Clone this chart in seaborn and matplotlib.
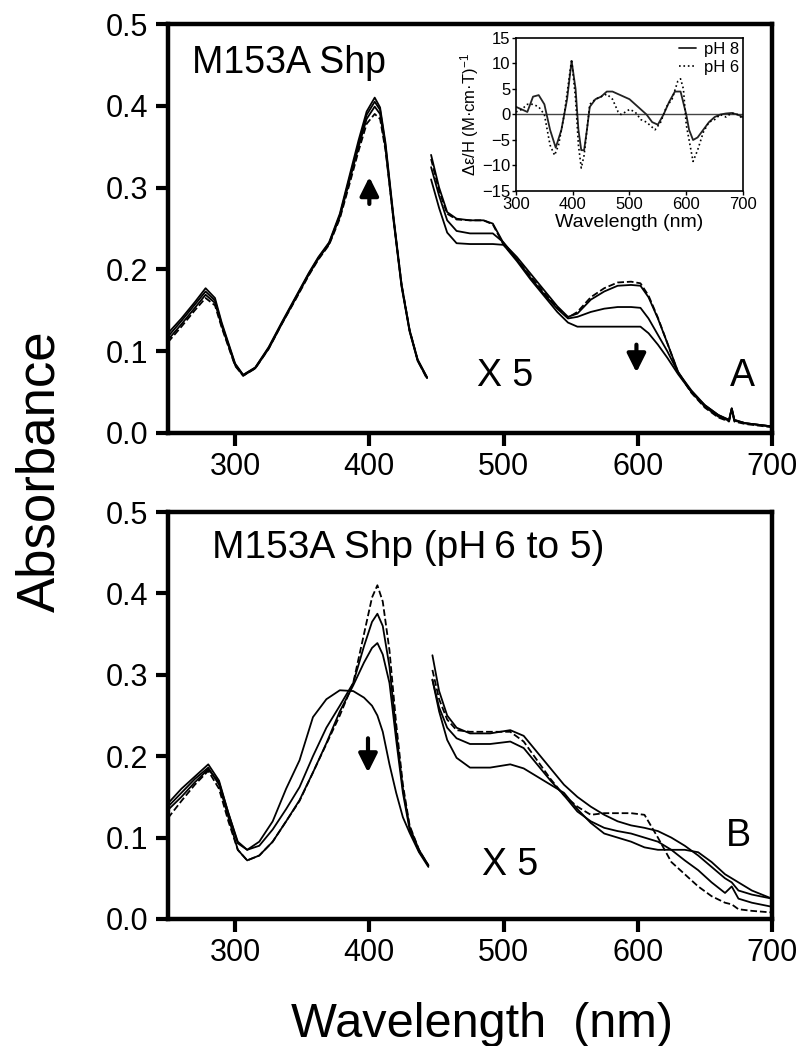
import numpy as np
import pandas as pd
import matplotlib
matplotlib.use('Agg')
import matplotlib.pyplot as plt
import seaborn as sns

# ---- data ----
# panel A, UV region (250-445 nm)
wl_a_uv = [250, 260, 270, 278, 285, 290, 300, 306, 315, 325, 335, 345, 355, 362,
           370, 378, 385, 392, 398, 404, 408, 412, 418, 424, 430, 436, 443]
a_uv_1 = [0.122, 0.140, 0.160, 0.177, 0.165, 0.135, 0.085, 0.071, 0.080, 0.105, 0.136, 0.166,
          0.196, 0.215, 0.233, 0.268, 0.313, 0.358, 0.393, 0.410, 0.398, 0.355, 0.265, 0.182,
          0.126, 0.090, 0.068]
a_uv_2 = [0.118, 0.137, 0.157, 0.173, 0.162, 0.133, 0.084, 0.071, 0.080, 0.104, 0.135, 0.165,
          0.195, 0.214, 0.232, 0.266, 0.310, 0.354, 0.389, 0.405, 0.395, 0.352, 0.262, 0.180,
          0.125, 0.089, 0.068]
a_uv_3 = [0.114, 0.133, 0.153, 0.169, 0.159, 0.131, 0.083, 0.070, 0.079, 0.103, 0.134, 0.164,
          0.194, 0.213, 0.231, 0.264, 0.307, 0.350, 0.384, 0.399, 0.390, 0.349, 0.260, 0.179,
          0.124, 0.088, 0.067]
a_uv_d = [0.111, 0.130, 0.150, 0.165, 0.156, 0.129, 0.082, 0.070, 0.079, 0.103, 0.134, 0.163,
          0.193, 0.212, 0.230, 0.262, 0.303, 0.345, 0.378, 0.390, 0.384, 0.346, 0.262, 0.182,
          0.126, 0.089, 0.066]

# panel A, visible region x5 (445-700 nm)
wl_a_vis = [446, 452, 458, 465, 475, 485, 492, 500, 510, 520, 530, 540, 548, 555, 565, 575,
            585, 595, 602, 608, 615, 622, 630, 640, 650, 660, 668, 670, 672, 680, 690, 700]
a_vis_1 = [0.340, 0.300, 0.270, 0.262, 0.260, 0.260, 0.256, 0.232, 0.215, 0.195, 0.175, 0.155,
           0.142, 0.146, 0.163, 0.173, 0.180, 0.181, 0.180, 0.166, 0.140, 0.110, 0.075, 0.050,
           0.032, 0.020, 0.015, 0.030, 0.015, 0.012, 0.010, 0.008]
a_vis_d = [0.335, 0.296, 0.268, 0.261, 0.260, 0.260, 0.255, 0.230, 0.212, 0.192, 0.172, 0.153,
           0.141, 0.148, 0.166, 0.177, 0.184, 0.185, 0.183, 0.168, 0.141, 0.110, 0.074, 0.049,
           0.031, 0.019, 0.014, 0.028, 0.014, 0.011, 0.009, 0.007]
a_vis_2 = [0.325, 0.290, 0.260, 0.247, 0.244, 0.244, 0.244, 0.233, 0.212, 0.190, 0.170, 0.152,
           0.140, 0.142, 0.148, 0.152, 0.154, 0.154, 0.153, 0.140, 0.120, 0.100, 0.074, 0.052,
           0.034, 0.022, 0.016, 0.030, 0.016, 0.012, 0.010, 0.008]
a_vis_3 = [0.310, 0.275, 0.245, 0.232, 0.231, 0.231, 0.231, 0.230, 0.210, 0.188, 0.168, 0.148,
           0.135, 0.130, 0.130, 0.130, 0.130, 0.130, 0.130, 0.122, 0.108, 0.092, 0.072, 0.050,
           0.034, 0.022, 0.016, 0.030, 0.016, 0.012, 0.010, 0.008]

# panel B, UV region
wl_b_uv = [250, 260, 270, 280, 288, 295, 302, 309, 318, 328, 338, 348, 358, 368, 378,
           388, 396, 402, 406, 410, 415, 420, 425, 430, 437, 444]
b_uv_d = [0.124, 0.145, 0.165, 0.182, 0.160, 0.120, 0.085, 0.072, 0.078, 0.095, 0.120, 0.145,
          0.180, 0.215, 0.250, 0.290, 0.350, 0.395, 0.410, 0.390, 0.330, 0.240, 0.165, 0.115,
          0.085, 0.065]
b_uv_1 = [0.142, 0.160, 0.175, 0.190, 0.170, 0.130, 0.095, 0.085, 0.090, 0.110, 0.135, 0.162,
          0.200, 0.235, 0.262, 0.290, 0.335, 0.365, 0.375, 0.360, 0.310, 0.230, 0.160, 0.113,
          0.085, 0.066]
b_uv_2 = [0.138, 0.155, 0.172, 0.186, 0.165, 0.125, 0.085, 0.072, 0.078, 0.095, 0.120, 0.146,
          0.180, 0.216, 0.255, 0.287, 0.315, 0.333, 0.339, 0.325, 0.290, 0.220, 0.155, 0.110,
          0.083, 0.066]
b_uv_3 = [0.134, 0.150, 0.168, 0.184, 0.168, 0.130, 0.093, 0.085, 0.095, 0.120, 0.160, 0.195,
          0.248, 0.270, 0.281, 0.280, 0.272, 0.262, 0.250, 0.230, 0.190, 0.155, 0.125, 0.106,
          0.082, 0.064]

# panel B, visible region x5
wl_b_vis = [447, 452, 458, 465, 475, 490, 505, 515, 525, 535, 545, 555, 565, 575, 585, 595,
            605, 615, 625, 635, 645, 655, 665, 670, 675, 685, 700]
b_vis_1 = [0.324, 0.280, 0.250, 0.235, 0.228, 0.228, 0.232, 0.225, 0.205, 0.185, 0.165, 0.150,
           0.138, 0.128, 0.120, 0.115, 0.112, 0.108, 0.100, 0.090, 0.078, 0.064, 0.050, 0.045,
           0.035, 0.030, 0.025]
b_vis_d = [0.306, 0.270, 0.245, 0.232, 0.230, 0.230, 0.230, 0.218, 0.195, 0.172, 0.152, 0.138,
           0.128, 0.130, 0.130, 0.130, 0.128, 0.100, 0.070, 0.055, 0.040, 0.028, 0.020, 0.018,
           0.012, 0.010, 0.008]
b_vis_2 = [0.294, 0.260, 0.235, 0.222, 0.215, 0.215, 0.218, 0.210, 0.190, 0.170, 0.152, 0.132,
           0.120, 0.112, 0.108, 0.105, 0.100, 0.095, 0.085, 0.072, 0.060, 0.045, 0.032, 0.040,
           0.025, 0.020, 0.015]
b_vis_3 = [0.294, 0.255, 0.220, 0.198, 0.186, 0.186, 0.190, 0.185, 0.175, 0.165, 0.155, 0.135,
           0.118, 0.105, 0.100, 0.095, 0.088, 0.085, 0.085, 0.085, 0.082, 0.070, 0.055, 0.050,
           0.045, 0.035, 0.025]

# inset MCD
wl_mcd_8 = [300, 310, 320, 330, 340, 350, 360, 370, 380, 390, 398, 405, 410, 415, 420, 425,
            430, 440, 450, 460, 470, 480, 490, 500, 510, 520, 530, 540, 550, 560, 570, 580,
            590, 600, 605, 612, 620, 630, 640, 650, 660, 670, 680, 690, 700]
mcd_ph8 = [1.5, 1.0, 0.5, 3.5, 3.8, 2.0, -3.0, -6.5, -3.0, 3.0, 10.5, 5.0, -3.0, -7.0, -7.0,
           -3.0, 1.5, 3.0, 3.5, 4.5, 4.5, 4.0, 3.5, 3.0, 2.0, 1.0, 0.0, -1.5, -2.0, 0.0, 2.5,
           4.5, 4.5, 0.0, -3.0, -5.0, -4.5, -3.0, -1.5, -0.5, 0.0, 0.2, 0.3, 0.0, -0.5]
wl_mcd_6 = [300, 310, 320, 330, 340, 350, 360, 368, 375, 385, 398, 405, 410, 415, 420, 425,
            430, 440, 450, 460, 470, 480, 485, 490, 500, 510, 520, 530, 540, 545, 555, 565,
            575, 585, 590, 595, 600, 612, 620, 630, 640, 650, 660, 670, 680, 690, 700]
mcd_ph6 = [0.5, 1.0, 2.0, 2.0, 1.5, 0.0, -6.0, -8.0, -6.0, 0.0, 10.8, 3.0, -6.0, -10.5, -8.0,
           -3.0, 2.0, 3.0, 3.5, 4.0, 3.0, 0.5, 0.0, 0.3, 1.0, 0.5, -1.0, -1.5, -2.5, -3.0, -1.5,
           1.5, 3.0, 6.5, 7.0, 5.0, -2.0, -9.2, -7.0, -3.5, -1.5, -1.0, 0.0, -0.5, 0.3, 0.0, -0.8]

sns.set_style('ticks')
plt.rcParams['font.family'] = ['Liberation Sans', 'DejaVu Sans']
plt.rcParams['mathtext.fontset'] = 'custom'
plt.rcParams['mathtext.rm'] = 'Liberation Sans'
plt.rcParams['mathtext.it'] = 'Liberation Sans:italic'
for key in ['text.color', 'axes.labelcolor', 'xtick.color', 'ytick.color', 'axes.edgecolor']:
    plt.rcParams[key] = 'black'

W, H = 803, 1046
fig = plt.figure(figsize=(W / 100, H / 100), dpi=100)


def box(px_l, px_t, px_r, px_b):
    return [px_l / W, 1 - px_b / H, (px_r - px_l) / W, (px_b - px_t) / H]


ax_a = fig.add_axes(box(168, 24, 772, 433))
ax_b = fig.add_axes(box(168, 512, 772, 919))


def curve(ax, x, y, ls='-', lw=1.3):
    sns.lineplot(x=x, y=y, ax=ax, color='black', linestyle=ls, linewidth=lw,
                 sort=False, estimator=None)


for y in [a_uv_3, a_uv_2, a_uv_1]:
    curve(ax_a, wl_a_uv, y)
curve(ax_a, wl_a_uv, a_uv_d, ls='--')
for y in [a_vis_3, a_vis_2, a_vis_1]:
    curve(ax_a, wl_a_vis, y)
curve(ax_a, wl_a_vis, a_vis_d, ls='--')

for y in [b_uv_1, b_uv_2, b_uv_3]:
    curve(ax_b, wl_b_uv, y)
curve(ax_b, wl_b_uv, b_uv_d, ls='--')
for y in [b_vis_1, b_vis_2, b_vis_3]:
    curve(ax_b, wl_b_vis, y)
curve(ax_b, wl_b_vis, b_vis_d, ls='--')

for ax in (ax_a, ax_b):
    ax.set_xlim(250, 700)
    ax.set_ylim(0, 0.5)
    ax.set_xticks([300, 400, 500, 600, 700])
    ax.set_yticks([0.0, 0.1, 0.2, 0.3, 0.4, 0.5])
    ax.set_yticklabels(['0.0', '0.1', '0.2', '0.3', '0.4', '0.5'])
    ax.tick_params(direction='out', length=9, width=3, labelsize=22, pad=5,
                   colors='black')
    for s in ax.spines.values():
        s.set_linewidth(3.2)
        s.set_color('black')
        s.set_visible(True)
    ax.set_xlabel('')
    ax.set_ylabel('')

arrow = dict(arrowstyle='-|>,head_width=0.35,head_length=0.7', lw=3, color='black',
             shrinkA=0, shrinkB=0, mutation_scale=16)
ax_a.annotate('', xy=(400, 0.313), xytext=(400, 0.28), arrowprops=arrow)
ax_a.annotate('', xy=(599, 0.074), xytext=(599, 0.108), arrowprops=arrow)
ax_b.annotate('', xy=(399, 0.18), xytext=(399, 0.222), arrowprops=arrow)

ax_a.text(268, 0.44, 'M153A Shp', fontsize=27, ha='left', va='baseline')
ax_a.text(480, 0.058, 'X 5', fontsize=27, ha='left', va='baseline')
ax_a.text(669, 0.058, 'A', fontsize=27, ha='left', va='baseline')
ax_b.text(283, 0.443, 'M153A Shp (pH\u20096 to 5)', fontsize=28, ha='left', va='baseline')
ax_b.text(484, 0.054, 'X 5', fontsize=27, ha='left', va='baseline')
ax_b.text(666, 0.09, 'B', fontsize=27, ha='left', va='baseline')

fig.text(0.05, 0.55, 'Absorbance', rotation=90, fontsize=38, ha='center', va='center')
fig.text(0.6, 1 - 1037 / H, 'Wavelength  (nm)', fontsize=35, ha='center', va='baseline')

# inset
ax_in = fig.add_axes(box(516, 38, 743, 191))
ax_in.axhline(0, color='#444444', lw=1.0)
sns.lineplot(x=wl_mcd_8, y=mcd_ph8, ax=ax_in, color='#222222', linewidth=1.3,
             sort=False, estimator=None, label='pH 8')
sns.lineplot(x=wl_mcd_6, y=mcd_ph6, ax=ax_in, color='black', linewidth=1.2, linestyle=':',
             sort=False, estimator=None, label='pH 6')
ax_in.set_xlim(300, 700)
ax_in.set_ylim(-15, 15)
ax_in.set_xticks([300, 400, 500, 600, 700])
ax_in.set_yticks([-15, -10, -5, 0, 5, 10, 15])
ax_in.tick_params(direction='out', length=3, width=1, labelsize=12, pad=1, colors='black')
for s in ax_in.spines.values():
    s.set_linewidth(1.2)
    s.set_color('black')
    s.set_visible(True)
ax_in.set_xlabel('Wavelength (nm)', fontsize=14, labelpad=2)
ax_in.set_ylabel('\u0394\u03b5/H (M\u00b7cm\u00b7T)$^{-1}$', fontsize=12, labelpad=1)
ax_in.legend(loc='upper right', frameon=False, fontsize=12, handlelength=1.0,
             handletextpad=0.5, borderaxespad=0.1, labelspacing=0.2,
             bbox_to_anchor=(1.02, 1.03))

fig.savefig('out.png', dpi=100)
